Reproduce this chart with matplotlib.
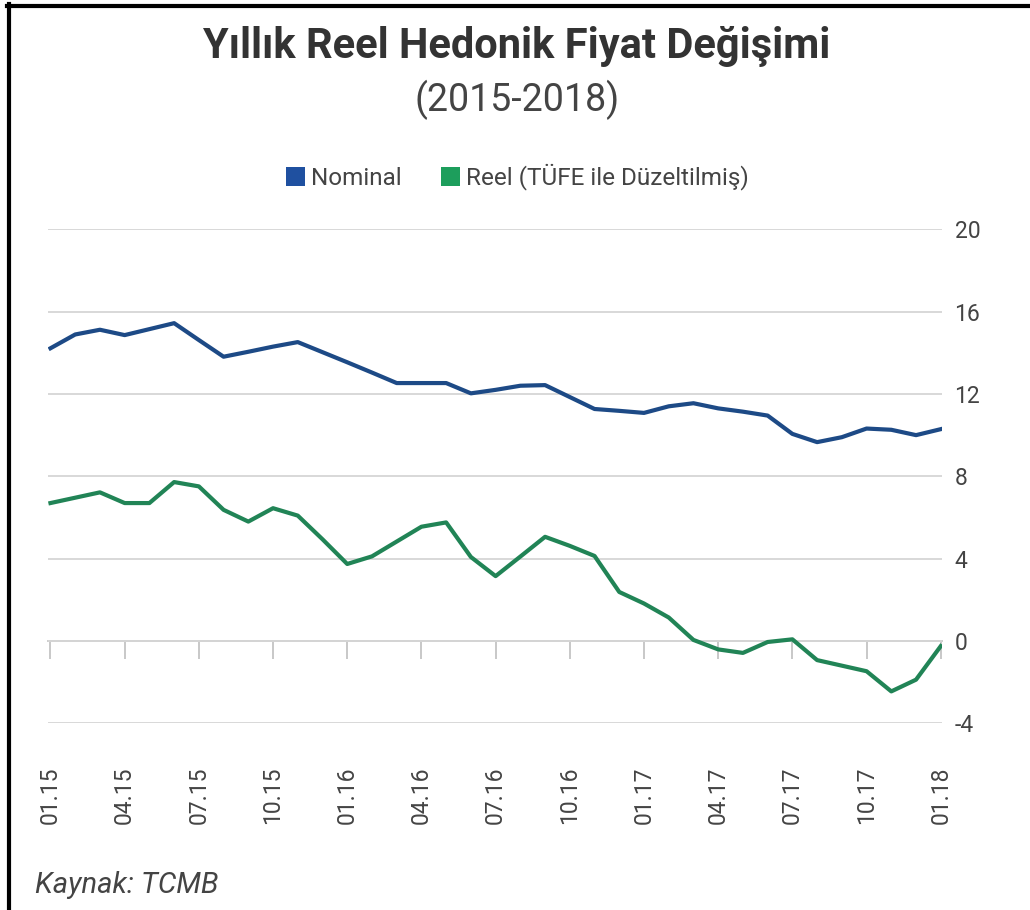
import numpy as np
import matplotlib
matplotlib.use('Agg')
import matplotlib.pyplot as plt
from matplotlib.patches import Patch
from matplotlib.lines import Line2D

plt.rcParams['font.family'] = ['Roboto', 'DejaVu Sans']
plt.rcParams['axes.unicode_minus'] = False

# aylik seriler, 01.15 - 01.18
nominal = [14.22, 14.89, 15.12, 14.86, 15.15, 15.44, 14.62, 13.81, 14.05, 14.30, 14.52,
           14.03, 13.54, 13.04, 12.53, 12.53, 12.53, 12.03, 12.20, 12.40, 12.43, 11.85, 11.27, 11.18,
           11.08, 11.40, 11.55, 11.30, 11.14, 10.95, 10.06, 9.66, 9.90, 10.32, 10.26, 10.00, 10.29]
reel = [6.70, 6.96, 7.22, 6.70, 6.70, 7.72, 7.51, 6.37, 5.80, 6.45, 6.09,
        4.94, 3.74, 4.11, 4.83, 5.55, 5.76, 4.08, 3.15, 4.10, 5.06, 4.62, 4.13, 2.38,
        1.82, 1.14, 0.05, -0.41, -0.58, -0.05, 0.08, -0.93, -1.20, -1.47, -2.45, -1.88, -0.25]
tick_labels = ['01.15', '04.15', '07.15', '10.15', '01.16', '04.16', '07.16',
               '10.16', '01.17', '04.17', '07.17', '10.17', '01.18']
y_ticks = [-4, 0, 4, 8, 12, 16, 20]

c_nom = '#1d4a86'
c_reel = '#218456'
c_text = '#444444'

fig = plt.figure(figsize=(10.3, 9.1), dpi=100)
ax = fig.add_axes([48/1030, 1-723.3/910, (942-48)/1030, (723.3-229.3)/910])

x = np.arange(len(nominal))
ax.plot(x, nominal, color=c_nom, lw=3, solid_joinstyle='round', zorder=3)
ax.plot(x, reel, color=c_reel, lw=3, solid_joinstyle='round', zorder=3)

ax.set_xlim(-0.1, len(nominal) - 1 + 0.05)
ax.set_ylim(y_ticks[0], y_ticks[-1])

ax.set_yticks(y_ticks)
ax.yaxis.tick_right()
ax.tick_params(axis='y', length=0, pad=9, labelsize=16.5, labelcolor=c_text)
ax.grid(axis='y', color='#d6d6d6', lw=1.3)
ax.set_axisbelow(True)

tick_pos = x[::3]
ax.set_xticks(tick_pos)
ax.set_xticklabels(tick_labels, rotation=90)
ax.tick_params(axis='x', length=0, pad=31, labelsize=16.5, labelcolor=c_text)

for s in ax.spines.values():
    s.set_visible(False)

# sifir cizgisi ve ceyrek isaretleri
zero_loc = (0 - y_ticks[0]) / (y_ticks[-1] - y_ticks[0])
sec = ax.secondary_xaxis(zero_loc)
sec.set_xticks(tick_pos)
sec.set_xticklabels([])
sec.tick_params(axis='x', direction='out', length=13, width=1.3, color='#c4c4c4')
sec.spines['bottom'].set_color('#c4c4c4')
sec.spines['bottom'].set_linewidth(1.3)

fig.text(0.502, 1-58/910, 'Yıllık Reel Hedonik Fiyat Değişimi', ha='center', va='baseline',
         fontsize=30, fontweight='bold', color='#333333')
fig.text(0.502, 1-111/910, '(2015-2018)', ha='center', va='baseline',
         fontsize=27, color=c_text)

handles = [Patch(facecolor='#1f50a0'), Patch(facecolor='#1d9e5c')]
fig.legend(handles, ['Nominal', 'Reel (TÜFE ile Düzeltilmiş)'], loc='center',
           bbox_to_anchor=(0.5024, 1-177/910), ncol=2, frameon=False, fontsize=17.5,
           handlelength=0.8, handleheight=0.8, handletextpad=0.25, columnspacing=1.6,
           labelcolor=c_text)

fig.text(35/1030, 1-893/910, 'Kaynak: TCMB', ha='left', va='baseline',
         fontsize=21, style='italic', color=c_text)

# cerceve (sol ve ust)
fig.add_artist(Line2D([9/1030, 9/1030], [0, 1-4/910], transform=fig.transFigure,
                      color='black', lw=3))
fig.add_artist(Line2D([7/1030, 1], [1-6/910, 1-6/910], transform=fig.transFigure,
                      color='black', lw=3))

fig.savefig('out.png', dpi=100)
